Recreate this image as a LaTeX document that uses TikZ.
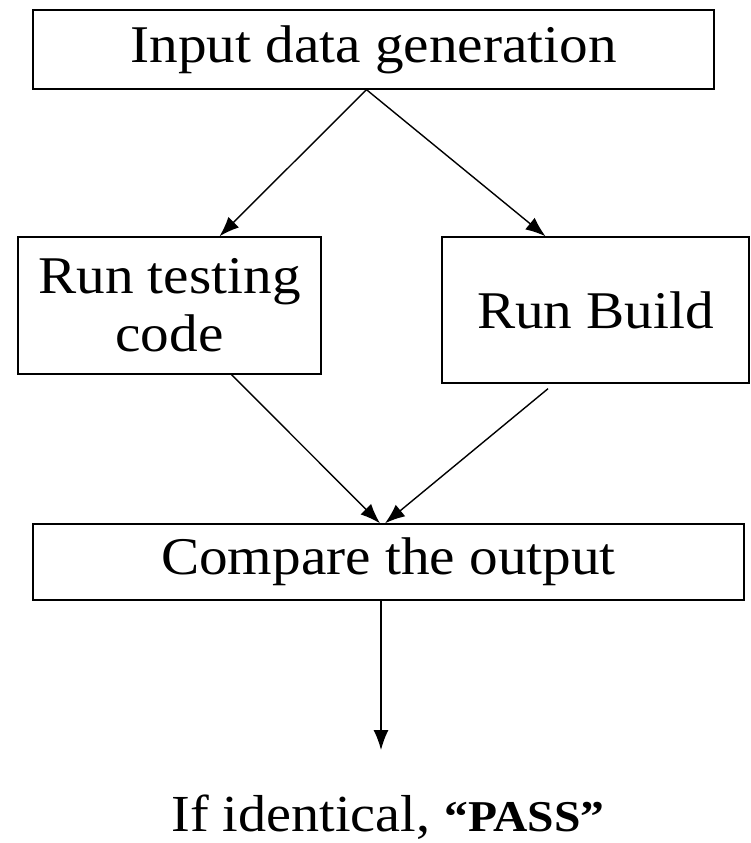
\documentclass[tikz,border=0pt]{standalone}
\usepackage{fontspec}
\setmainfont[FakeStretch=1.08]{Liberation Serif}
\usetikzlibrary{arrows.meta,positioning}

\begin{document}
\begin{tikzpicture}[x=1pt, y=-1pt, line width=1.4pt,
                    box node/.style={rectangle,draw,inner sep=0pt,align=center,font=\fontsize{53}{58}\selectfont},
                    flow/.style={-{Latex[length=20pt,width=15pt]}}]
  \useasboundingbox (0,0) rectangle (750,843);

  \node[box node, minimum width=681pt, minimum height=79pt] (input) at (373.5,49.5) {Input data generation};
    \node[box node, minimum width=303pt, minimum height=137pt] (test) at (169.5,305.5) {Run testing\\code};
    \node[box node, minimum width=307pt, minimum height=146pt] (build) at (595.5,310) {Run Build};
      \node[box node, minimum width=711pt, minimum height=76pt] (compare) at (388.5,562) {Compare the output};
        \coordinate (tip) at (381,750);
        \node[anchor=base, font=\fontsize{52}{58}\selectfont] (result) at (388,831)
          {If identical, {\fontsize{44}{50}\selectfont\bfseries “PASS”}};

\draw[flow] ([xshift=-7pt]input.south) -- ([xshift=50pt]test.north);
\draw[flow] ([xshift=-7pt]input.south) -- ([xshift=-50pt]build.north);

\draw[flow] ([xshift=62pt]test.south) -- ([xshift=-8.5pt]compare.north);
\draw[flow] ([xshift=-47.5pt,yshift=-5pt]build.south) -- ([xshift=-3.5pt]compare.north);
\draw[flow] ([xshift=-7.5pt]compare.south) -- (tip);

\end{tikzpicture}
\end{document}
